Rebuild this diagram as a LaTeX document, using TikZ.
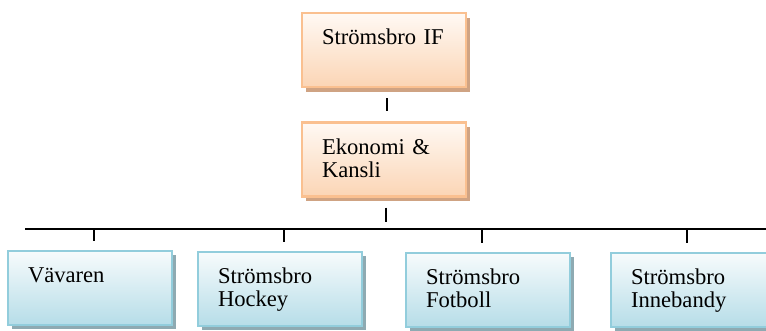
\documentclass[tikz,border=0pt]{standalone}
\usepackage{fontspec}
\setmainfont{Liberation Serif}
\usetikzlibrary{shadows}
\usetikzlibrary{positioning}
\definecolor{orgline}{HTML}{FAC090}
\definecolor{orgtop}{HTML}{FFF9F4}
\definecolor{orgbot}{HTML}{FBD5B5}
\definecolor{orgshade}{HTML}{CFA383}
\definecolor{subline}{HTML}{92CDDC}
\definecolor{subtop}{HTML}{F7FBFC}
\definecolor{subbot}{HTML}{B6DDE8}
\definecolor{subshade}{HTML}{8EAAB2}
\tikzstyle{orgbox} = [rectangle, minimum height=37pt, text width=62pt, inner xsep=10pt,
align=left, text height=9pt, text depth=14pt, line width=1.2pt,
font=\fontsize{11.3}{11.5}\selectfont]
\tikzstyle{topbox} = [orgbox, draw=orgline, top color=orgtop, bottom color=orgbot,
general shadow={shadow xshift=2pt, shadow yshift=-2.5pt, fill=orgshade}]
\tikzstyle{subbox} = [orgbox, draw=subline, top color=subtop, bottom color=subbot,
general shadow={shadow xshift=2pt, shadow yshift=-2pt, fill=subshade}]
\tikzstyle{tick} = [line width=1pt, black]

\begin{document}
\begin{tikzpicture}[x=0.5pt, y=-0.5pt, node distance=16.5pt]
    \useasboundingbox (0,0) rectangle (766,331);
    \node (club) [topbox] at (384,50) {Strömsbro IF};
    \node (office) [topbox, below=of club] {Ekonomi \&\\Kansli};
    \node (vav) [subbox] at (90,288) {Vävaren};
    \node (hockey) [subbox] at (280,289) {Strömsbro\\Hockey};
    \node (fotboll) [subbox] at (488,290) {Strömsbro\\Fotboll};
    \node (inne) [subbox] at (693,290) {Strömsbro\\Innebandy};
    \coordinate (busL) at (25,229);
    \coordinate (busR) at (766,229);

    \draw[tick] (busL) -- (busR);
    \draw[tick, shorten <=5pt, shorten >=5pt] ([xshift=1.5pt]club.south) -- ([xshift=1.5pt]office.north);
    \draw[tick, shorten <=5pt, shorten >=3.5pt] ([xshift=1pt]office.south) -- ([xshift=1pt]office.south |- busL);
    \draw[tick, shorten <=0.5pt, shorten >=4.5pt] ([xshift=2pt]vav.north |- busL) -- ([xshift=2pt]vav.north);
    \draw[tick, shorten <=0.5pt, shorten >=4.5pt] ([xshift=2pt]hockey.north |- busL) -- ([xshift=2pt]hockey.north);
    \draw[tick, shorten <=0.5pt, shorten >=4.5pt] ([xshift=-3pt]fotboll.north |- busL) -- ([xshift=-3pt]fotboll.north);
    \draw[tick, shorten <=0.5pt, shorten >=4.5pt] ([xshift=-3pt]inne.north |- busL) -- ([xshift=-3pt]inne.north);
\end{tikzpicture}
\end{document}
